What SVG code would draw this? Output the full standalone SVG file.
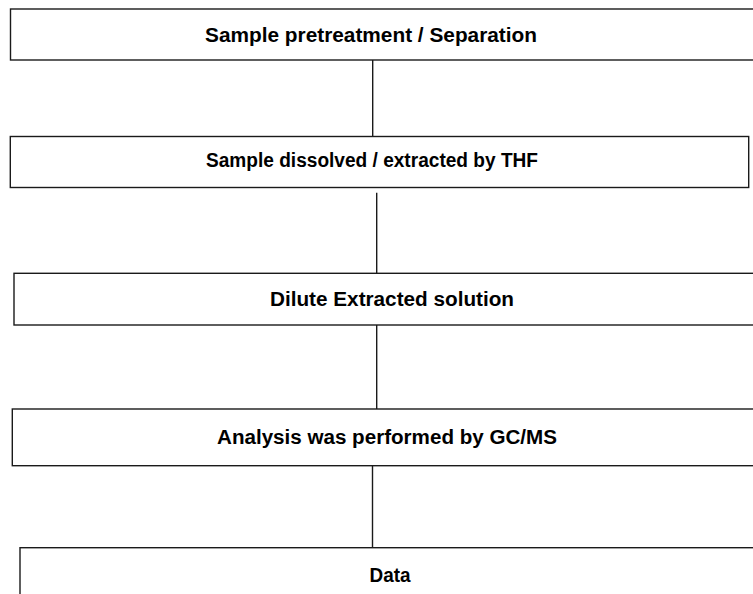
<svg xmlns="http://www.w3.org/2000/svg" width="753" height="594" viewBox="0 0 753 594">
<style>
.box{fill:#fff;stroke:#1a1a1a;stroke-width:1.4}
.lbl{font-family:"Liberation Sans",Arial,sans-serif;font-weight:bold;font-size:19.5px;fill:#000;text-anchor:middle}
.con{stroke:#1a1a1a;stroke-width:1.4;fill:none}
</style>
<rect width="753" height="594" fill="#fff"/>
<g id="connectors">
<line class="con" x1="372.7" y1="60" x2="372.7" y2="141.5"/>
<line class="con" x1="376.7" y1="192.7" x2="376.7" y2="273.3"/>
<line class="con" x1="376.7" y1="325" x2="376.7" y2="412.5"/>
<line class="con" x1="372.5" y1="459" x2="372.5" y2="547.7"/>
</g>
<g id="n1">
<rect class="box" x="10.5" y="9" width="760" height="51"/>
<text class="lbl" x="371" y="42" textLength="332" lengthAdjust="spacingAndGlyphs">Sample pretreatment / Separation</text>
</g>
<g id="n2">
<rect class="box" x="10.3" y="136.5" width="738.4" height="51"/>
<text class="lbl" x="372" y="167" textLength="332" lengthAdjust="spacingAndGlyphs">Sample dissolved / extracted by THF</text>
</g>
<g id="n3">
<rect class="box" x="14" y="273.3" width="760" height="51.7"/>
<text class="lbl" x="392" y="306" textLength="244" lengthAdjust="spacingAndGlyphs">Dilute Extracted solution</text>
</g>
<g id="n4">
<rect class="box" x="12.3" y="409" width="760" height="56.7"/>
<text class="lbl" x="387" y="444" textLength="340" lengthAdjust="spacingAndGlyphs">Analysis was performed by GC/MS</text>
</g>
<g id="n5">
<rect class="box" x="20" y="547.7" width="760" height="60"/>
<text class="lbl" x="390" y="582" textLength="41" lengthAdjust="spacingAndGlyphs">Data</text>
</g>
</svg>
